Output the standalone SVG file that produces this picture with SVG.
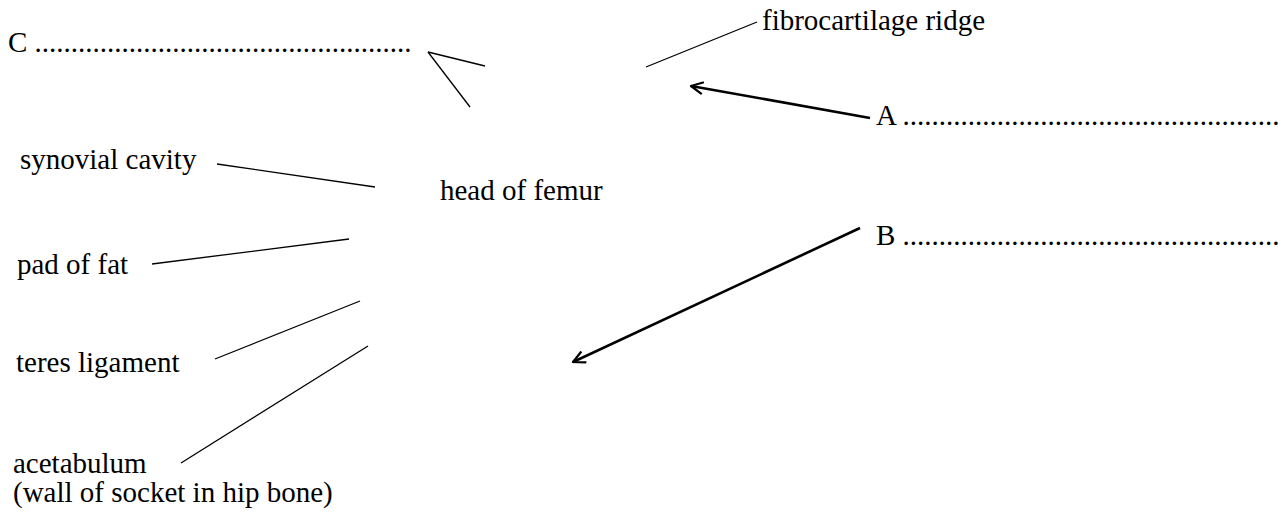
<svg xmlns="http://www.w3.org/2000/svg" width="1286" height="520" viewBox="0 0 1286 520">
<defs>
<marker id="open" viewBox="0 0 14 14" refX="13" refY="7" markerWidth="14" markerHeight="14" markerUnits="userSpaceOnUse" orient="auto">
<path d="M1,1 L13,7 L1,13" fill="none" stroke="#000" stroke-width="2.2"/>
</marker>
</defs>
<rect width="1286" height="520" fill="#fff"/>
<g id="connectors" stroke="#000" fill="none">
<g stroke-width="1.3">
<line x1="428" y1="52" x2="485" y2="66"/>
<line x1="428" y1="52" x2="470" y2="107"/>
<line x1="646" y1="67" x2="757" y2="22"/>
<line x1="217" y1="164" x2="375" y2="187"/>
<line x1="152" y1="264" x2="349" y2="239"/>
<line x1="215" y1="359" x2="360" y2="301"/>
<line x1="181" y1="463" x2="368" y2="346"/>
</g>
<g stroke-width="2.6" marker-end="url(#open)">
<line x1="870" y1="118" x2="691" y2="86"/>
<line x1="860" y1="228" x2="573" y2="362"/>
</g>
</g>
<g font-family="Liberation Serif" font-size="29" fill="#000">
<g id="label-C"><text x="8" y="52">C ....................................................</text></g>
<g id="label-fibrocartilage"><text x="762" y="30">fibrocartilage ridge</text></g>
<g id="label-A"><text x="876" y="125">A ....................................................</text></g>
<g id="label-B"><text x="876" y="245">B ....................................................</text></g>
<g id="label-head"><text x="440" y="200">head of femur</text></g>
<g id="label-synovial"><text x="20" y="169">synovial cavity</text></g>
<g id="label-pad"><text x="17" y="274">pad of fat</text></g>
<g id="label-teres"><text x="16" y="372">teres ligament</text></g>
<g id="label-acetabulum"><text x="13" y="473">acetabulum</text><text x="13" y="502">(wall of socket in hip bone)</text></g>
</g>
</svg>
